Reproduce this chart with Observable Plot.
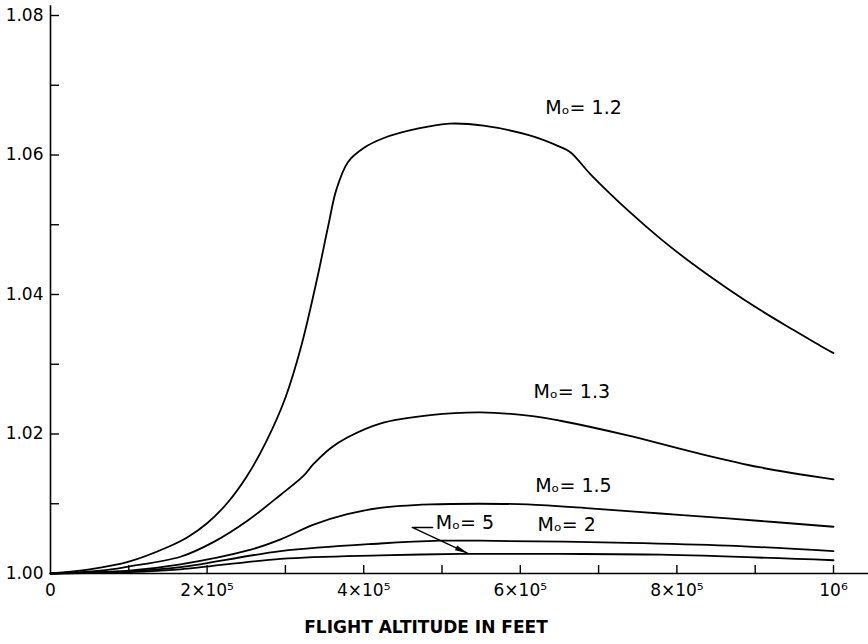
<!DOCTYPE html>
<html><head><meta charset="utf-8">
<script src="https://cdn.jsdelivr.net/npm/d3@7"></script>
<script src="https://cdn.jsdelivr.net/npm/@observablehq/plot@0.6"></script>
<style>body{margin:0;background:#fff}#chart{width:868px;height:644px}</style>
</head><body><div id="chart"></div>
<script>
// Flight altitude (feet) and ratio values
const alt12 = [0, 0.5e5, 1.0e5, 1.5e5, 1.75e5, 2.0e5, 2.25e5, 2.5e5, 2.75e5, 3.0e5, 3.2e5, 3.4e5, 3.55e5, 3.65e5, 3.8e5, 4.0e5, 4.25e5, 4.7e5, 5.1e5, 5.53e5, 6.12e5, 6.5e5, 6.64e5, 6.9e5, 7.4e5, 7.8e5, 8.2e5, 8.64e5, 9.06e5, 9.49e5, 9.87e5, 10.0e5];
const val12 = [1.0000, 1.0006, 1.0017, 1.0038, 1.0052, 1.0072, 1.0100, 1.0138, 1.0188, 1.0252, 1.0325, 1.0420, 1.0500, 1.0550, 1.0590, 1.0610, 1.0624, 1.0638, 1.0645, 1.0642, 1.0628, 1.0612, 1.0604, 1.0572, 1.0518, 1.0479, 1.0444, 1.0409, 1.0378, 1.0349, 1.0324, 1.0316];

const alt13 = [0, 0.64e5, 1.0e5, 1.66e5, 2.08e5, 2.52e5, 2.94e5, 3.23e5, 3.36e5, 3.58e5, 3.79e5, 4.21e5, 4.85e5, 5.49e5, 6.13e5, 6.51e5, 7.37e5, 8.21e5, 9.07e5, 10.0e5];
const val13 = [1.0000, 1.0004, 1.0010, 1.0024, 1.0045, 1.0076, 1.0113, 1.0140, 1.0157, 1.0180, 1.0195, 1.0215, 1.0227, 1.0231, 1.0226, 1.0219, 1.0198, 1.0174, 1.0152, 1.0135];

const alt15 = [0, 1.0e5, 1.66e5, 2.52e5, 2.94e5, 3.36e5, 3.79e5, 4.21e5, 4.85e5, 5.49e5, 6.09e5, 6.93e5, 7.79e5, 8.65e5, 10.0e5];
const val15 = [1.0000, 1.0004, 1.0013, 1.0033, 1.0049, 1.0070, 1.0085, 1.0094, 1.0099, 1.0100, 1.0099, 1.0093, 1.0086, 1.0079, 1.0067];

const alt2 = [0, 1.0e5, 1.66e5, 2.94e5, 4.21e5, 4.98e5, 5.49e5, 7.37e5, 8.65e5, 10.0e5];
const val2 = [1.0000, 1.0003, 1.0009, 1.0032, 1.0043, 1.0047, 1.0047, 1.0044, 1.0040, 1.0032];

const alt5 = [0, 1.0e5, 1.66e5, 2.94e5, 4.21e5, 5.24e5, 6.5e5, 7.79e5, 10.0e5];
const val5 = [1.0000, 1.0002, 1.0006, 1.0021, 1.0026, 1.0028, 1.0028, 1.0027, 1.0019];

const seriesNames = ["1.2", "1.3", "1.5", "2", "5"];
const seriesAlts = [alt12, alt13, alt15, alt2, alt5];
const seriesVals = [val12, val13, val15, val2, val5];

// Curve labels (anchor point for the start of each label)
const labelTexts = ["Mₒ= 1.2", "Mₒ= 1.3", "Mₒ= 1.5", "Mₒ= 2", "Mₒ= 5"];
const labelAlts = [6.32e5, 6.17e5, 6.19e5, 6.22e5, 4.92e5];
const labelVals = [1.0668, 1.0260, 1.0125, 1.0069, 1.0072];

// Leader for the M=5 label
const pointerAlts = [4.88e5, 4.62e5, 5.33e5];
const pointerVals = [1.0066, 1.0066, 1.0029];

// Ticks
const yMajor = [1.00, 1.02, 1.04, 1.06, 1.08];
const yAll = [1.00, 1.01, 1.02, 1.03, 1.04, 1.05, 1.06, 1.07, 1.08];
const xMajor = [0, 2e5, 4e5, 6e5, 8e5, 1e6];
const xMajorLabels = ["0", "2×10⁵", "4×10⁵", "6×10⁵", "8×10⁵", "10⁶"];
const xAll = [1e5, 2e5, 3e5, 4e5, 5e5, 6e5, 7e5, 8e5, 9e5, 1e6];
const xTitle = "FLIGHT ALTITUDE IN FEET";

const rows = seriesNames.flatMap((s, i) => seriesAlts[i].map((a, j) => ({series: s, alt: a, val: seriesVals[i][j]})));
const labels = labelTexts.map((t, i) => ({t, alt: labelAlts[i], val: labelVals[i]}));
const pointer = pointerAlts.map((a, i) => ({alt: a, val: pointerVals[i]}));

const tickLenX = 11500;   // ~9px in data units
const tickLenY = 0.00115; // ~8px in data units

// Filled, elongated arrowhead whose tip sits at the symbol's origin
const headDeg = 25, headLen = 13, headHalf = 2.6;
const arrowHead = {
  draw(context) {
    const a = headDeg * Math.PI / 180;
    const ux = Math.cos(a), uy = Math.sin(a), nx = -uy, ny = ux;
    const bx = -headLen * ux, by = -headLen * uy;
    context.moveTo(0, 0);
    context.lineTo(bx + headHalf * nx, by + headHalf * ny);
    context.lineTo(bx - headHalf * nx, by - headHalf * ny);
    context.closePath();
  }
};

const plot = Plot.plot({
  width: 868,
  height: 644,
  marginLeft: 50,
  marginRight: 35,
  marginTop: 15,
  marginBottom: 71,
  style: {fontFamily: "'DejaVu Sans', sans-serif", fontSize: "17px", color: "black", background: "white", overflow: "visible"},
  x: {domain: [0, 1e6], label: null},
  y: {domain: [1.0, 1.08], label: null},
  marks: [
    // axis lines
    Plot.ruleY([1.0], {x1: 0, x2: 1.045e6, stroke: "black", strokeWidth: 1.6}),
    Plot.ruleX([0], {y1: 1.0, y2: 1.0814, stroke: "black", strokeWidth: 1.6}),
    // inward ticks
    Plot.ruleY(yAll, {x1: 0, x2: tickLenX, stroke: "black", strokeWidth: 1.4}),
    Plot.ruleX(xAll, {y1: 1.0, y2: 1.0 + tickLenY, stroke: "black", strokeWidth: 1.4}),
    Plot.axisY(yMajor, {tickSize: 0, tickPadding: 7, tickFormat: d => d.toFixed(2), fontSize: 17, label: null}),
    Plot.axisX(xMajor, {tickSize: 0, tickPadding: 10, tickFormat: d => xMajorLabels[xMajor.indexOf(d)], fontSize: 17, label: null}),
    Plot.text([xTitle], {frameAnchor: "bottom", dy: 59, dx: -16, fontSize: 17, fontWeight: 600, letterSpacing: 3}),
    // curves
    Plot.line(rows, {x: "alt", y: "val", z: "series", stroke: "black", strokeWidth: 1.8, curve: "catmull-rom"}),
    // labels
    Plot.text(labels, {x: "alt", y: "val", text: "t", textAnchor: "start", fontSize: 19}),
    Plot.line(pointer, {x: "alt", y: "val", stroke: "black", strokeWidth: 1.4}),
    Plot.dot([pointer[2]], {x: "alt", y: "val", symbol: arrowHead, fill: "black", stroke: "none"})
  ]
});
document.getElementById("chart").append(plot);
</script>
</body></html>
